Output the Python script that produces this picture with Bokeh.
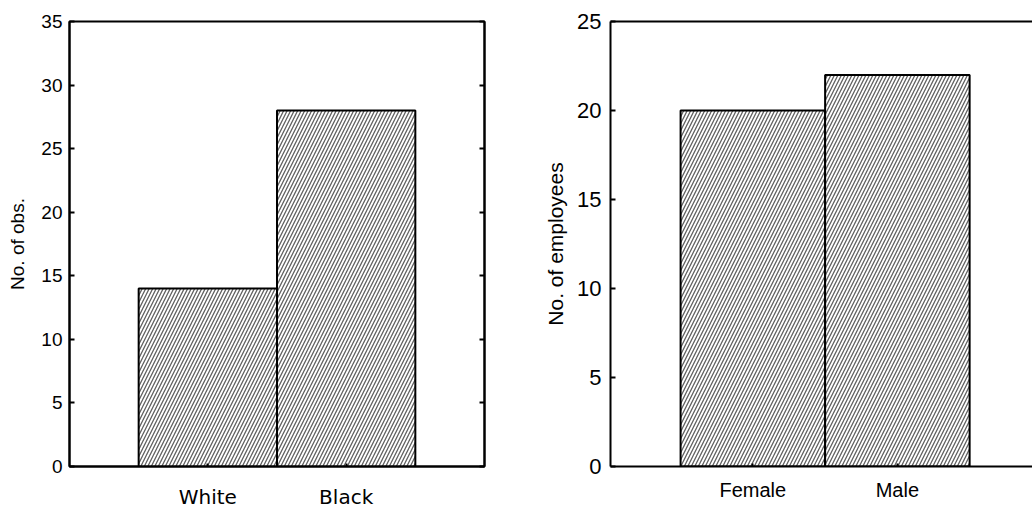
from bokeh.plotting import figure
from bokeh.layouts import row
from bokeh.models import Range1d, FixedTicker, LinearAxis
from bokeh.embed import file_html
from bokeh.resources import INLINE

# ---- data ----
race_categories = ["White", "Black"]
race_counts = [14, 28]
race_yticks = [0, 5, 10, 15, 20, 25, 30, 35]

sex_categories = ["Female", "Male"]
sex_counts = [20, 22]
sex_yticks = [0, 5, 10, 15, 20, 25]

FONT = "Liberation Sans"


def style_axis(ax, tick_in=5):
    ax.axis_line_width = 2
    ax.axis_line_color = "black"
    ax.major_tick_in = tick_in
    ax.major_tick_out = 0
    ax.major_tick_line_width = 2
    ax.minor_tick_line_color = None
    ax.major_label_text_font = FONT
    ax.axis_label_text_font = FONT
    ax.axis_label_text_font_style = "normal"
    ax.axis_label_text_color = "black"
    ax.major_label_text_color = "black"


def hatch_bars(p, xs, tops):
    p.vbar(x=xs, top=tops, width=1.0, bottom=0,
           fill_color="white", line_color="black", line_width=2,
           hatch_pattern="/", hatch_color="#444444", hatch_scale=7,
           hatch_weight=1.3, hatch_alpha=0.85)


# ---- left chart ----
x1 = list(range(len(race_categories)))
p1 = figure(width=540, height=513, output_backend="svg", toolbar_location=None,
            x_range=Range1d(-1, len(race_categories)), y_range=Range1d(0, 35),
            min_border_left=69, min_border_right=56, min_border_top=15,
            min_border_bottom=36)
p1.xgrid.visible = False
p1.ygrid.visible = False
p1.outline_line_color = "black"
p1.outline_line_width = 2
p1.background_fill_color = "white"
p1.border_fill_color = "white"
hatch_bars(p1, x1, race_counts)

p1.xaxis.ticker = FixedTicker(ticks=x1)
p1.xaxis.major_label_overrides = {i: c for i, c in enumerate(race_categories)}
p1.yaxis.ticker = FixedTicker(ticks=race_yticks)
for ax in p1.xaxis:
    style_axis(ax, tick_in=3)
    ax.major_label_text_font = "DejaVu Sans"
    ax.major_label_text_font_size = "20px"
    ax.major_label_standoff = 18
for ax in p1.yaxis:
    style_axis(ax, tick_in=5)
    ax.major_label_text_font_size = "19px"
    ax.major_label_standoff = 7
    ax.axis_label = "No. of obs."
    ax.axis_label_text_font_size = "19px"
    ax.axis_label_standoff = 10

r1 = LinearAxis(ticker=FixedTicker(ticks=race_yticks))
style_axis(r1, tick_in=5)
r1.major_label_text_color = None
p1.add_layout(r1, "right")

# ---- right chart ----
x2 = list(range(len(sex_categories)))
p2 = figure(width=492, height=513, output_backend="svg", toolbar_location=None,
            x_range=Range1d(-0.985, 1.935), y_range=Range1d(0, 25),
            min_border_left=70, min_border_right=0, min_border_top=21,
            min_border_bottom=47)
p2.xgrid.visible = False
p2.ygrid.visible = False
p2.outline_line_color = None
p2.background_fill_color = "white"
p2.border_fill_color = "white"
hatch_bars(p2, x2, sex_counts)

p2.xaxis.ticker = FixedTicker(ticks=x2)
p2.xaxis.major_label_overrides = {i: c for i, c in enumerate(sex_categories)}
p2.yaxis.ticker = FixedTicker(ticks=sex_yticks)
for ax in p2.xaxis:
    style_axis(ax, tick_in=3)
    ax.major_label_text_font_size = "20px"
    ax.major_label_standoff = 12
for ax in p2.yaxis:
    style_axis(ax, tick_in=5)
    ax.major_label_text_font_size = "22px"
    ax.major_label_standoff = 9
    ax.axis_label = "No. of employees"
    ax.axis_label_text_font_size = "21px"
    ax.axis_label_standoff = 7

t2 = LinearAxis(ticker=FixedTicker(ticks=[]))
style_axis(t2, tick_in=0)
t2.major_tick_line_color = None
p2.add_layout(t2, "above")

layout = row(p1, p2)
open("out.html", "w").write(file_html(layout, INLINE))
